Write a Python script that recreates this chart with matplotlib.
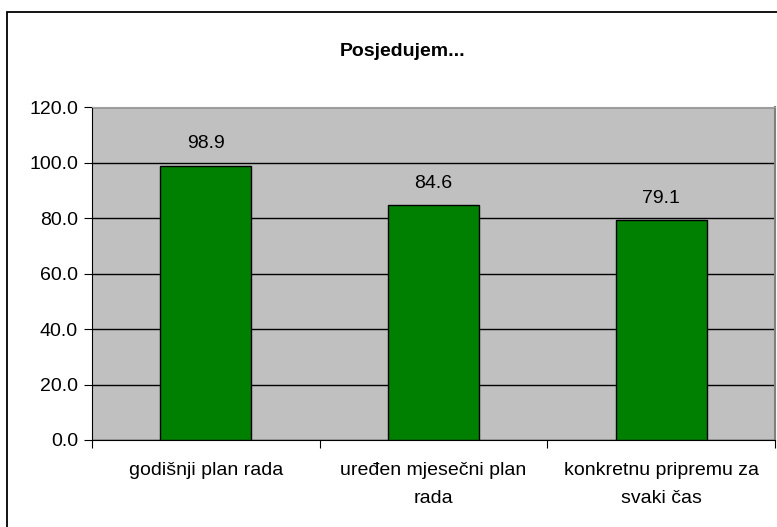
import matplotlib as mpl
import matplotlib.pyplot as plt
from matplotlib.patches import Rectangle

mpl.rcParams['font.family'] = ['Liberation Sans', 'DejaVu Sans']

# data
categories = ['godišnji plan rada', 'uređen mjesečni plan\nrada', 'konkretnu pripremu za\nsvaki čas']
values = [98.9, 84.6, 79.1]
yticks = [0, 20, 40, 60, 80, 100, 120]

fig = plt.figure(figsize=(7.77, 5.27), dpi=100)
W, H = 777., 527.

# outer chart frame (right and bottom edges run off the picture)
fig.patches.append(Rectangle((7/W, -0.05), 1.0, 1 - 12/H + 0.05, transform=fig.transFigure,
                             fill=False, edgecolor='black', linewidth=1.3))

ax = fig.add_axes([92/W, 87/H, 683/W, 333/H])
ax.set_facecolor('#c0c0c0')

x = range(len(categories))
bars = ax.bar(x, values, width=0.4, color='#008000', edgecolor='black', linewidth=1.0, zorder=3)
for xi, v in zip(x, values):
    ax.annotate('%.1f' % v, (xi, v), xytext=(0, 12.5), textcoords='offset points',
                ha='center', va='baseline', fontsize=14)

ax.set_xlim(-0.5, len(categories) - 0.5)
ax.set_ylim(0, 120)
ax.set_yticks(yticks)
ax.set_yticklabels(['%.1f' % t for t in yticks], fontsize=14)
ax.yaxis.grid(True, color='black', linewidth=1.0, zorder=1)
ax.set_axisbelow(True)

# category labels between boundary ticks
ax.set_xticks([-0.5, 0.5, 1.5, 2.5])
ax.set_xticklabels([])
ax.set_xticks(list(x), minor=True)
ax.set_xticklabels(categories, minor=True, fontsize=14, linespacing=1.85)
ax.tick_params(axis='x', which='minor', length=0, pad=16)
ax.tick_params(axis='x', which='major', length=6, direction='out')
ax.tick_params(axis='y', length=6, direction='out', pad=4)

ax.spines['top'].set_color('#a0a0a0')
ax.spines['right'].set_color('#808080')
ax.spines['right'].set_linewidth(1.5)

fig.text(403/W, 1 - 56/H, 'Posjedujem...', ha='center', va='baseline', fontsize=14, fontweight='bold')

fig.savefig('out.png', dpi=100)
